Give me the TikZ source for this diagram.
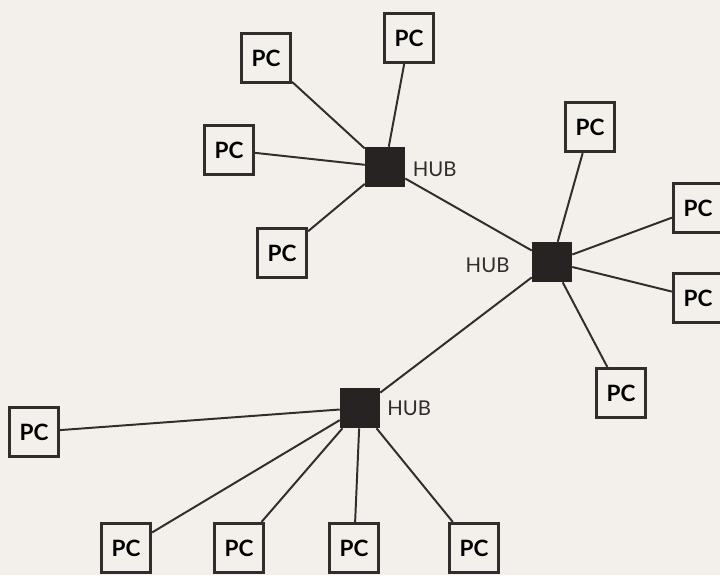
\documentclass[tikz,border=0pt]{standalone}
\usepackage{fontspec}
\setmainfont{Lato}
\usetikzlibrary{positioning}
\definecolor{paper}{RGB}{243,239,234}
\definecolor{ink}{RGB}{50,45,45}
\definecolor{hubfill}{RGB}{40,35,35}

\begin{document}
\begin{tikzpicture}[x=0.025cm, y=-0.025cm]
% Define styles
\tikzset{
  pcbox/.style={draw=ink, line width=2.4pt, fill=paper, minimum size=1.22cm,
    inner sep=0pt, font=\fontsize{16}{18}\selectfont\bfseries},
  hubbox/.style={fill=hubfill, minimum size=1cm, inner sep=0pt},
  hubtext/.style={inner sep=0pt, text=ink, font=\fontsize{14.5}{16}\selectfont},
  link/.style={draw=ink, line width=1.4pt}
}

% Paper
\fill[paper] (0,0) rectangle (720,575);
\useasboundingbox (0,0) rectangle (720,575);

% Hubs
\node[hubbox] (hub1) at (385,167) {};
\node[hubbox] (hub2) at (552,262) {};
\node[hubbox] (hub3) at (360,408) {};
\node[hubtext, right=0.18cm of hub1, yshift=-0.05cm] (hub1txt) {HUB};
\node[hubtext, left=0.55cm of hub2, yshift=-0.08cm] (hub2txt) {HUB};
\node[hubtext, right=0.17cm of hub3] (hub3txt) {HUB};

% PCs round the top hub
\node[pcbox] (pc1) at (266,58) {PC};
\node[pcbox] (pc2) at (409,38) {PC};
\node[pcbox] (pc3) at (229,150) {PC};
\node[pcbox] (pc4) at (282,253) {PC};

% PCs round the right hub
\node[pcbox] (pc5) at (590,127) {PC};
\node[pcbox] (pc6) at (698,208) {PC};
\node[pcbox] (pc7) at (698,298) {PC};
\node[pcbox] (pc8) at (621,393) {PC};

% PCs round the bottom hub
\node[pcbox] (pc9) at (34,432) {PC};
\node[pcbox] (pc10) at (126,548) {PC};
\node[pcbox] (pc11) at (239,548) {PC};
\node[pcbox] (pc12) at (354,548) {PC};
\node[pcbox] (pc13) at (474,548) {PC};

% Links
\draw[link] (hub1) -- (hub2);
\draw[link] (hub2) -- (hub3);
\draw[link] (hub1) -- (pc1);
\draw[link] (hub1) -- (pc2);
\draw[link] (hub1) -- (pc3);
\draw[link] (hub1) -- (pc4);
\draw[link] (hub2) -- (pc5);
\draw[link] (hub2) -- (pc6);
\draw[link] (hub2) -- (pc7);
\draw[link] (hub2) -- (pc8);
\draw[link] (hub3) -- (pc9);
\draw[link] (hub3) -- (pc10);
\draw[link] (hub3) -- (pc11);
\draw[link] (hub3) -- (pc12);
\draw[link] (hub3) -- (pc13);
\end{tikzpicture}
\end{document}
